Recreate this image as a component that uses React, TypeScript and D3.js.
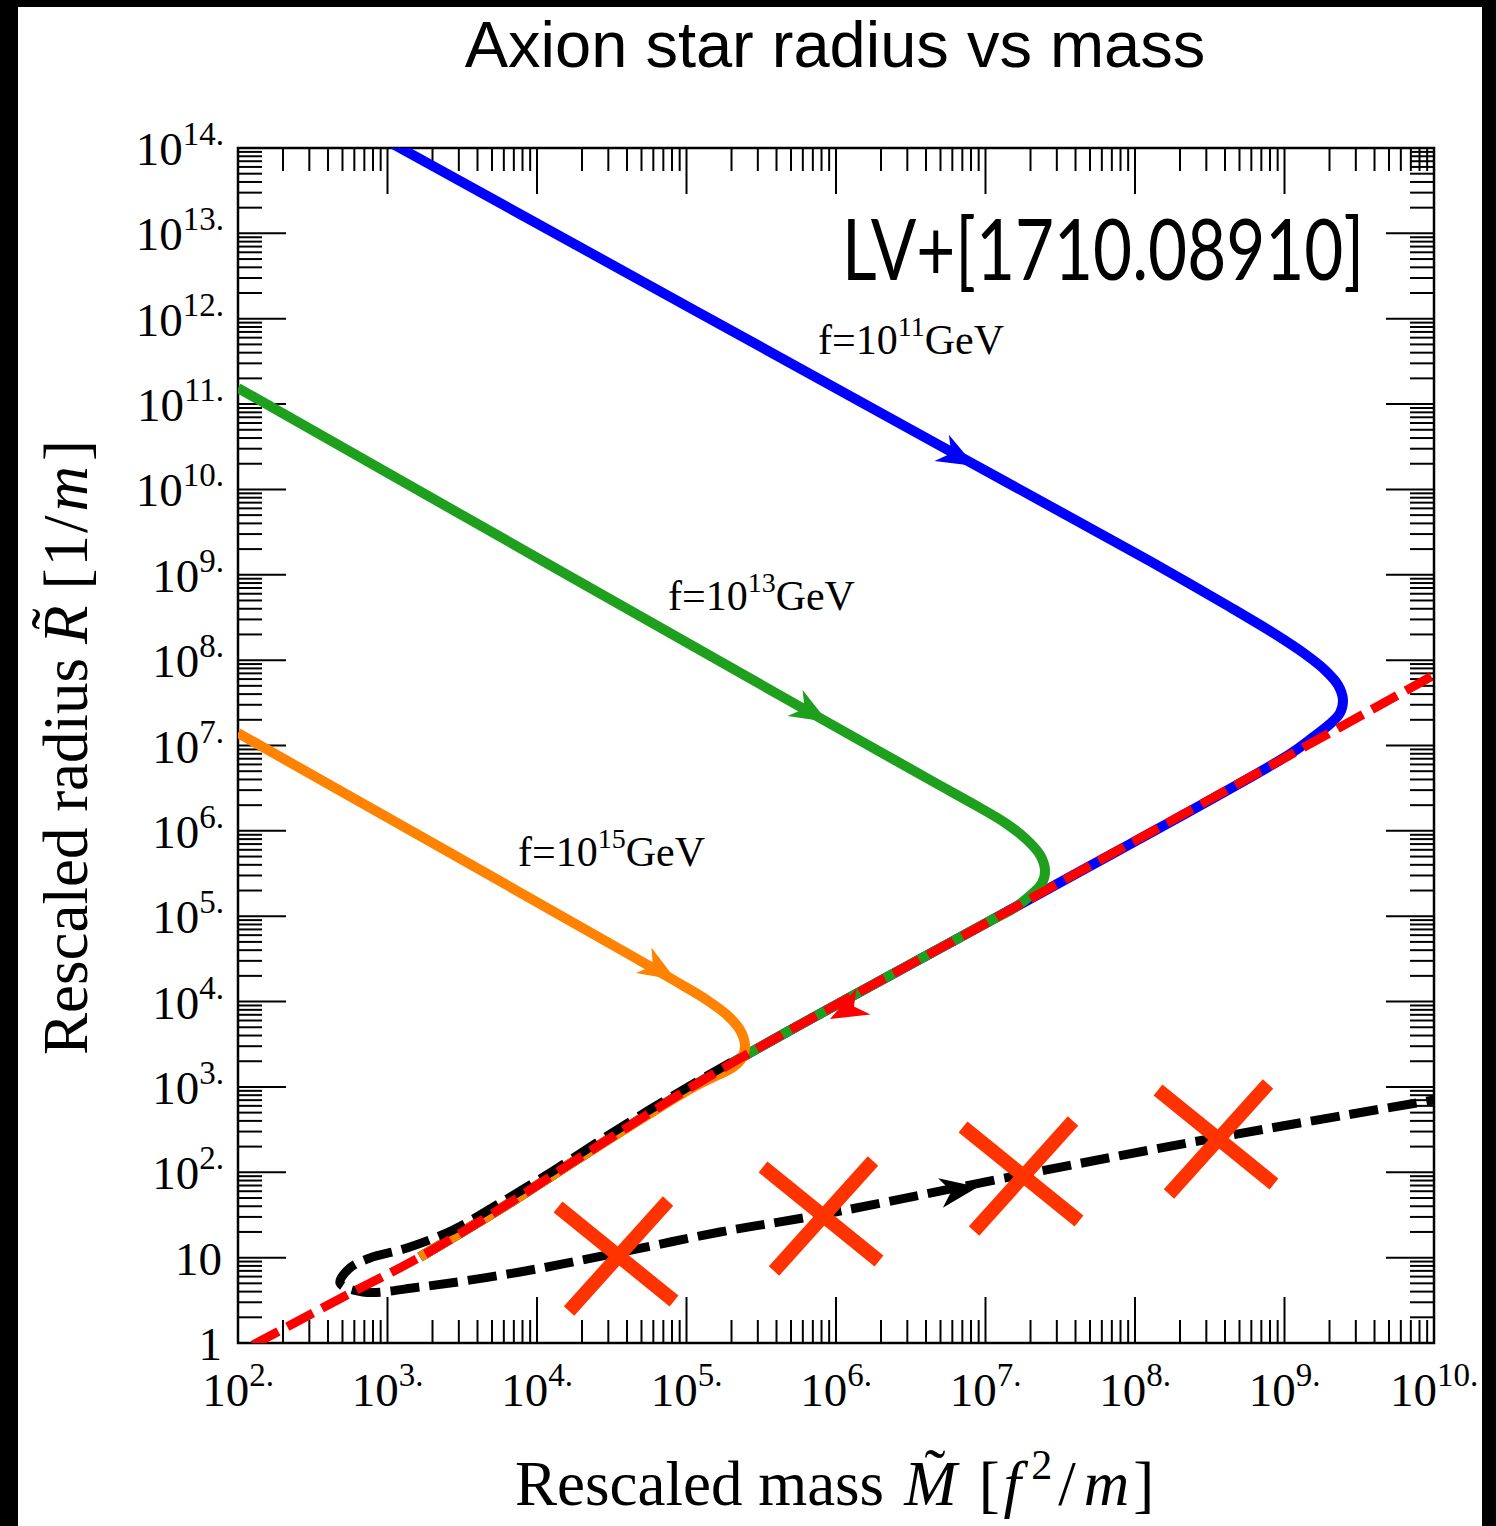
import React from 'react';
import * as d3 from 'd3';

// ---------- data (log10 values) ----------
const xDecades = [2, 3, 4, 5, 6, 7, 8, 9, 10];
const yDecades = [0, 1, 2, 3, 4, 5, 6, 7, 8, 9, 10, 11, 12, 13, 14];
const minorMultipliers = [2, 3, 4, 5, 6, 7, 8, 9];

// [log10 M, log10 R]
const blueCurve: [number, number][] = [
  [2.95, 14.13], [6.896, 10.321], [8.1, 9.161], [8.635, 8.622], [8.936, 8.306],
  [9.137, 8.072], [9.271, 7.884], [9.358, 7.709], [9.391, 7.533], [9.371, 7.381],
  [9.304, 7.252], [9.184, 7.088], [9.037, 6.9], [7.164, 5.073], [5.224, 3.198],
  [4.334, 2.226], [3.773, 1.593], [3.217, 1.007],
];
const greenCurve: [number, number][] = [
  [2.0, 11.188], [5.893, 7.322], [6.642, 6.584], [6.943, 6.291], [7.144, 6.08],
  [7.278, 5.893], [7.365, 5.717], [7.398, 5.541], [7.378, 5.389], [7.311, 5.26],
  [7.191, 5.096], [7.043, 4.956], [5.224, 3.198], [4.334, 2.226], [3.773, 1.593],
  [3.217, 1.007],
];
const orangeCurve: [number, number][] = [
  [2.0, 7.146], [4.635, 4.534], [4.936, 4.229], [5.137, 4.018], [5.271, 3.843],
  [5.358, 3.667], [5.391, 3.491], [5.371, 3.339], [5.304, 3.222], [5.184, 3.12],
  [5.037, 2.99], [4.334, 2.226], [3.773, 1.593], [3.217, 1.007],
];
const redCurve: [number, number][] = [
  [2.1, -0.023], [2.729, 0.562], [3.217, 1.007], [3.773, 1.593], [4.334, 2.226],
  [5.224, 3.198], [7.164, 5.073], [9.037, 6.889], [10.0, 7.826],
];
const blackCurve: [number, number][] = [
  [5.3, 3.29], [5.043, 3.034], [4.555, 2.519], [4.107, 2.015], [3.732, 1.617],
  [3.438, 1.324], [3.13, 1.113], [2.883, 0.996], [2.749, 0.879], [2.682, 0.703],
  [2.836, 0.597], [3.217, 0.656], [3.886, 0.832], [4.535, 1.054], [5.224, 1.3],
  [5.893, 1.5], [7.231, 1.968], [8.535, 2.402], [10.0, 2.847],
];
// arrow tip and a point behind it along the curve
const arrows: { tip: [number, number]; back: [number, number]; color: string }[] = [
  { tip: [6.93, 10.274], back: [6.696, 10.497], color: '#0000ff' },
  { tip: [5.946, 7.275], back: [5.692, 7.533], color: '#1ea01e' },
  { tip: [4.93, 4.253], back: [4.689, 4.51], color: '#ff8200' },
  { tip: [5.96, 3.796], back: [6.201, 4.018], color: '#ff0000' },
  { tip: [6.95, 1.828], back: [6.696, 1.757], color: '#000000' },
];
const crosses: [number, number][] = [
  [4.522, 1.031], [5.893, 1.5], [7.231, 1.968], [8.535, 2.402],
];
const curveLabels = [
  { exp: '11', at: [5.88, 11.586] as [number, number] },
  { exp: '13', at: [4.876, 8.587] as [number, number] },
  { exp: '15', at: [3.873, 5.588] as [number, number] },
];

// ---------- layout ----------
const W = 1496;
const H = 1526;
const L = 238, R = 1434, T = 148, B = 1343;

const x = d3.scaleLog().domain([1e2, 1e10]).range([L, R]);
const y = d3.scaleLog().domain([1, 1e14]).range([B, T]);
const px = (d: [number, number]) => x(Math.pow(10, d[0]));
const py = (d: [number, number]) => y(Math.pow(10, d[1]));

const line = d3
  .line<[number, number]>()
  .x(px)
  .y(py)
  .curve(d3.curveCatmullRom.alpha(0.5));

const serif = "'Liberation Serif', 'Times New Roman', serif";

function Ticks() {
  const els: React.ReactNode[] = [];
  xDecades.forEach((d, i) => {
    const xv = x(Math.pow(10, d));
    els.push(<line key={`xb${d}`} x1={xv} x2={xv} y1={B} y2={B - 46} />);
    els.push(<line key={`xt${d}`} x1={xv} x2={xv} y1={T} y2={T + 46} />);
    if (i < xDecades.length - 1) {
      minorMultipliers.forEach((m) => {
        const xm = x(m * Math.pow(10, d));
        els.push(<line key={`xbm${d}_${m}`} x1={xm} x2={xm} y1={B} y2={B - 23} />);
        els.push(<line key={`xtm${d}_${m}`} x1={xm} x2={xm} y1={T} y2={T + 23} />);
      });
    }
  });
  yDecades.forEach((d, i) => {
    const yv = y(Math.pow(10, d));
    els.push(<line key={`yl${d}`} x1={L} x2={L + 48} y1={yv} y2={yv} />);
    els.push(<line key={`yr${d}`} x1={R} x2={R - 48} y1={yv} y2={yv} />);
    if (i < yDecades.length - 1) {
      minorMultipliers.forEach((m) => {
        const ym = y(m * Math.pow(10, d));
        els.push(<line key={`ylm${d}_${m}`} x1={L} x2={L + 24} y1={ym} y2={ym} />);
        els.push(<line key={`yrm${d}_${m}`} x1={R} x2={R - 24} y1={ym} y2={ym} />);
      });
    }
  });
  return (
    <g stroke="#000" strokeWidth={2}>
      {els}
    </g>
  );
}

function TickLabels() {
  return (
    <g fontFamily={serif} fill="#000">
      {xDecades.map((d) => (
        <text key={`xl${d}`} x={x(Math.pow(10, d))} y={B + 63} textAnchor="middle" fontSize={47}>
          10
          <tspan dy={-20} fontSize={33}>{`${d}.`}</tspan>
        </text>
      ))}
      {yDecades.map((d) => {
        const yv = y(Math.pow(10, d)) + 17;
        if (d === 0)
          return (
            <text key={`yl${d}`} x={222} y={yv} textAnchor="end" fontSize={47}>1</text>
          );
        if (d === 1)
          return (
            <text key={`yl${d}`} x={222} y={yv} textAnchor="end" fontSize={47}>10</text>
          );
        return (
          <text key={`yl${d}`} x={224} y={yv} textAnchor="end" fontSize={47}>
            10
            <tspan dy={-20} fontSize={33}>{`${d}.`}</tspan>
          </text>
        );
      })}
    </g>
  );
}

function Arrow({ tip, back, color }: { tip: [number, number]; back: [number, number]; color: string }) {
  const tx = px(tip), ty = py(tip);
  const bx = px(back), by = py(back);
  const ang = (Math.atan2(ty - by, tx - bx) * 180) / Math.PI;
  return (
    <path
      d="M0,0 L-38,-15 L-27,0 L-38,15 Z"
      fill={color}
      transform={`translate(${tx},${ty}) rotate(${ang})`}
    />
  );
}

export default function App() {
  return (
    <svg
      width={W}
      height={H}
      viewBox={`0 0 ${W} ${H}`}
      style={{ position: 'absolute', left: 0, top: 0, display: 'block' }}
    >
      <defs>
        <clipPath id="plot">
          <rect x={L} y={T} width={R - L} height={B - T} />
        </clipPath>
      </defs>
      <rect x={0} y={0} width={W} height={H} fill="#000" />
      <rect x={18} y={7} width={1464} height={H - 7} fill="#fff" />

      {/* title */}
      <text x={835} y={67} textAnchor="middle" fontFamily="'Liberation Sans', Arial, sans-serif" fontSize={65} fill="#000">
        Axion star radius vs mass
      </text>

      <Ticks />
      <rect x={L} y={T} width={R - L} height={B - T} fill="none" stroke="#000" strokeWidth={2.5} />
      <TickLabels />

      {/* curves */}
      <g clipPath="url(#plot)" fill="none">
        <path d={line(blueCurve) || ''} stroke="#0000ff" strokeWidth={10} />
        <path d={line(greenCurve) || ''} stroke="#1ea01e" strokeWidth={10} />
        <path d={line(orangeCurve) || ''} stroke="#ff8200" strokeWidth={10} />
        <path d={line(blackCurve) || ''} stroke="#000" strokeWidth={9} strokeDasharray="29 10" />
        <path d={line(redCurve) || ''} stroke="#ff0000" strokeWidth={9} strokeDasharray="29 10" />
      </g>
      {arrows.map((a, i) => (
        <Arrow key={i} {...a} />
      ))}
      <g stroke="#ff3300" strokeWidth={14} strokeLinecap="butt">
        {crosses.map((c, i) => {
          const cx = px(c), cy = py(c);
          return (
            <g key={i}>
              <line x1={cx - 57} y1={cy - 48} x2={cx + 59} y2={cy + 46} />
              <line x1={cx + 53} y1={cy - 54} x2={cx - 46} y2={cy + 56} />
            </g>
          );
        })}
      </g>

      {/* curve labels */}
      <g fontFamily={serif} fontSize={42} fill="#000">
        {curveLabels.map((c) => (
          <text key={c.exp} x={px(c.at)} y={py(c.at)}>
            f=10
            <tspan dy={-18} fontSize={28}>{c.exp}</tspan>
            <tspan dy={18}>GeV</tspan>
          </text>
        ))}
      </g>

      {/* reference tag */}
      <text x={842} y={280} fontFamily="Lato, 'Open Sans', sans-serif" fontSize={86} textLength={522} lengthAdjust="spacingAndGlyphs" fill="#000">
        LV+[1710.08910]
      </text>

      {/* x axis title */}
      <g fontFamily={serif} fontSize={63} fill="#000">
        <text x={515} y={1505}>
          Rescaled mass
          <tspan dx={20} fontStyle="italic">M</tspan>
          <tspan dx={22}>[</tspan>
          <tspan dx={4} fontStyle="italic">f</tspan>
          <tspan dx={10} dy={-26} fontSize={42}>2</tspan>
          <tspan dx={6} dy={26}>/</tspan>
          <tspan dx={8} fontStyle="italic">m</tspan>
          <tspan dx={4}>]</tspan>
          <tspan x={935} y={1493} textAnchor="middle">˜</tspan>
        </text>
      </g>

      {/* y axis title */}
      <g fontFamily={serif} fontSize={63} fill="#000" transform="translate(87,1055) rotate(-90)">
        <text x={0} y={0}>
          Rescaled radius
          <tspan dx={14} fontStyle="italic">R</tspan>
          <tspan dx={16}>[</tspan>
          <tspan dx={2}>1</tspan>
          <tspan dx={2}>/</tspan>
          <tspan dx={4} fontStyle="italic">m</tspan>
          <tspan dx={5}>]</tspan>
          <tspan x={436} y={-12} textAnchor="middle">˜</tspan>
        </text>
      </g>
    </svg>
  );
}
